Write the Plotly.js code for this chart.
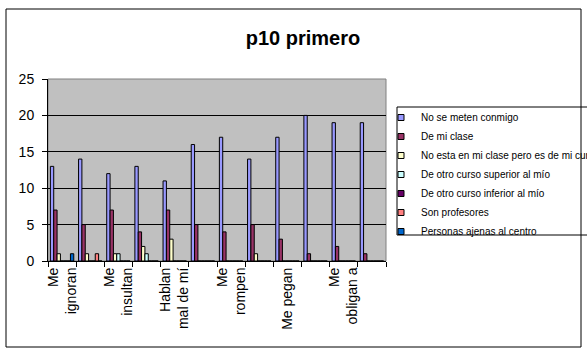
<!DOCTYPE html>
<html>
<head>
<meta charset="utf-8">
<script src="https://cdn.plot.ly/plotly-3.0.1.min.js"></script>
<style>html,body{margin:0;padding:0;background:#fff;}#chart{width:587px;height:351px;}</style>
</head>
<body>
<div id="chart"></div>
<script>
// Categories (only every other label is printed on the axis, as in the original)
const categories = ["Me ignoran", "No me dejan participar", "Me insultan", "Me ponen motes",
  "Hablan mal de mí", "Me esconden cosas", "Me rompen cosas", "Me roban cosas",
  "Me pegan", "Me amenazan", "Me obligan a hacer cosas", "Me acosan sexualmente"];
const tickLabels = ["Me<br>ignoran", "", "Me<br>insultan", "", "Hablan<br>mal de mí", "",
  "Me<br>rompen", "", "Me pegan", "", "Me<br>obligan a", ""];

const seriesNames = ["No se meten conmigo", "De mi clase", "No esta en mi clase pero es de mi curso",
  "De otro curso superior al mío", "De otro curso inferior al mío", "Son profesores",
  "Personas ajenas al centro"];

const noSeMeten      = [13, 14, 12, 13, 11, 16, 17, 14, 17, 20, 19, 19];
const deMiClase      = [7, 5, 7, 4, 7, 5, 4, 5, 3, 1, 2, 1];
const deMiCurso      = [1, 1, 1, 2, 3, 0, 0, 1, 0, 0, 0, 0];
const cursoSuperior  = [0, 0, 1, 1, 0, 0, 0, 0, 0, 0, 0, 0];
const cursoInferior  = [0, 0, 0, 0, 0, 0, 0, 0, 0, 0, 0, 0];
const profesores     = [0, 1, 0, 0, 0, 0, 0, 0, 0, 0, 0, 0];
const ajenas         = [1, 0, 0, 0, 0, 0, 0, 0, 0, 0, 0, 0];

const seriesValues = [noSeMeten, deMiClase, deMiCurso, cursoSuperior, cursoInferior, profesores, ajenas];
const colors = ["#9999FF", "#993366", "#FFFFCC", "#CCFFFF", "#660066", "#FF8080", "#0066CC"];

const W = 587, H = 351;
const M = {l: 48, r: 201, t: 79, b: 90};
const PW = W - M.l - M.r, PH = H - M.t - M.b;
const px = x => (x - M.l) / PW;
const py = y => (H - M.b - y) / PH;

const FONT = "Liberation Sans, Arial, sans-serif";
const traces = [];
seriesValues.forEach((vals, i) => {
  traces.push({
    type: "bar", x: categories, y: vals, name: seriesNames[i], legendgroup: "g" + i,
    showlegend: false,
    marker: {color: colors[i], line: {color: "#000000", width: 1}},
    hoverinfo: "x+y+name"
  });
});
seriesValues.forEach((vals, i) => {
  traces.push({
    type: "scatter", mode: "markers", x: [null], y: [null], name: seriesNames[i],
    legendgroup: "g" + i, showlegend: true, hoverinfo: "skip",
    marker: {symbol: "square", size: 6, color: colors[i], line: {color: "#000000", width: 1}}
  });
});

const layout = {
  width: W, height: H,
  margin: {l: M.l, r: M.r, t: M.t, b: M.b, pad: 0, autoexpand: false},
  paper_bgcolor: "#FFFFFF", plot_bgcolor: "#C0C0C0",
  font: {family: FONT, color: "#000000"},
  title: {text: "<b>p10 primero</b>", font: {family: FONT, size: 20, color: "#000000"},
    xref: "container", yref: "container", x: 303 / W, y: 1 - 38 / H, xanchor: "center", yanchor: "middle"},
  barmode: "group", bargap: 0.17, bargroupgap: 0,
  showlegend: true,
  legend: {x: px(381), y: py(103), xanchor: "left", yanchor: "top", bgcolor: "rgba(0,0,0,0)",
    borderwidth: 0, font: {family: FONT, size: 10, color: "#000000"}, traceorder: "normal"},
  xaxis: {
    type: "category", range: [-0.5, 11.5], tickmode: "array", tickvals: categories, ticktext: tickLabels,
    tickson: "boundaries", ticks: "outside", ticklen: 5, tickcolor: "#000000", tickwidth: 1,
    tickangle: -90, tickfont: {family: FONT, size: 14, color: "#000000"},
    showline: true, linecolor: "#000000", linewidth: 1, showgrid: false, zeroline: false, fixedrange: true
  },
  yaxis: {
    range: [0, 25], tickmode: "linear", tick0: 0, dtick: 5, ticks: "outside", ticklen: 5,
    ticklabelstandoff: 5,
    tickcolor: "#000000", tickfont: {family: FONT, size: 14, color: "#000000"},
    showline: true, linecolor: "#000000", linewidth: 1, showgrid: true, gridcolor: "#000000",
    gridwidth: 1, zeroline: false, fixedrange: true
  },
  shapes: [
    {type: "rect", xref: "paper", yref: "paper", x0: 0, x1: 1, y0: 0, y1: 1,
      line: {color: "#808080", width: 1}, layer: "below"},
    {type: "rect", xref: "paper", yref: "paper", x0: px(6), x1: px(581), y0: py(347), y1: py(9),
      line: {color: "#000000", width: 1}, layer: "below"},
    {type: "rect", xref: "paper", yref: "paper", x0: px(397), x1: px(620), y0: py(235), y1: py(107),
      line: {color: "#000000", width: 1}, layer: "below"}
  ]
};

Plotly.newPlot("chart", traces, layout, {displayModeBar: false, staticPlot: true});
</script>
</body>
</html>
